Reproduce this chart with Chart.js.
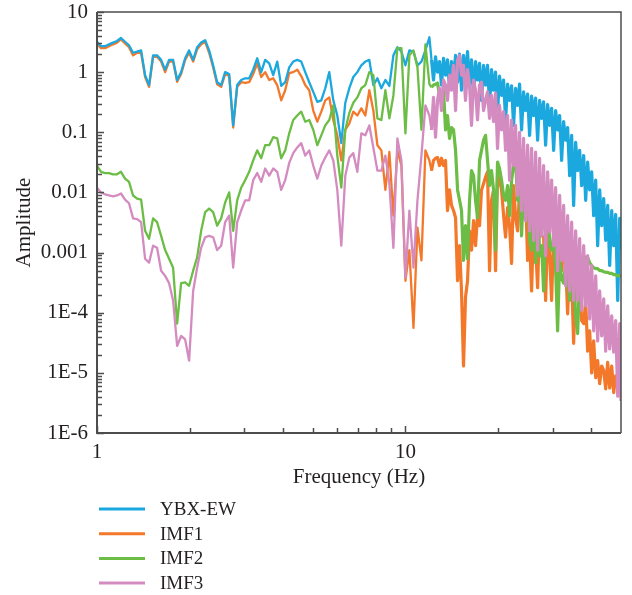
<!DOCTYPE html>
<html>
<head>
<meta charset="utf-8">
<script src="https://cdn.jsdelivr.net/npm/chart.js@4.4.1/dist/chart.umd.min.js"></script>
<style>
  html, body { margin: 0; padding: 0; background: #fff; }
  #wrap { width: 632px; height: 595px; }
</style>
</head>
<body>
<div id="wrap"><canvas id="chart" width="632" height="595"></canvas></div>
<script>
// Frequency (Hz) shared by all series
const freqs = [
  1.000, 1.030, 1.062, 1.094, 1.127, 1.161, 1.196, 1.233, 1.270, 1.309, 1.349, 1.390, 1.432, 1.475, 1.520, 1.566,
  1.614, 1.663, 1.713, 1.765, 1.819, 1.874, 1.931, 1.989, 2.050, 2.112, 2.176, 2.242, 2.310, 2.380, 2.452, 2.527,
  2.603, 2.683, 2.764, 2.848, 2.934, 3.023, 3.115, 3.209, 3.307, 3.407, 3.510, 3.617, 3.727, 3.840, 3.956, 4.076,
  4.200, 4.328, 4.459, 4.594, 4.733, 4.877, 5.025, 5.179, 5.336, 5.497, 5.664, 5.836, 6.013, 6.196, 6.384, 6.578,
  6.777, 6.983, 7.195, 7.413, 7.638, 7.870, 8.111, 8.356, 8.610, 8.871, 9.141, 9.418, 9.705, 10.00, 10.30, 10.62,
  10.94, 11.27, 11.61, 11.96,
  12.15, 12.33, 12.52, 12.71, 12.90, 13.09, 13.29, 13.49, 13.69, 13.90, 14.11, 14.32, 14.54, 14.76, 14.98, 15.20,
  15.43, 15.66, 15.90, 16.14, 16.38, 16.63, 16.88, 17.13, 17.39, 17.65, 17.92, 18.19, 18.46, 18.74, 19.02, 19.31,
  19.60, 19.89, 20.19, 20.50, 20.81, 21.12, 21.44, 21.76, 22.09, 22.42, 22.76, 23.10, 23.45, 23.80, 24.16, 24.53,
  24.90, 25.27, 25.65, 26.04, 26.43, 26.83, 27.23, 27.64, 28.06, 28.48, 28.91, 29.35, 29.79, 30.24, 30.69, 31.15,
  31.62, 32.10, 32.58, 33.07, 33.57, 34.08, 34.59, 35.11, 35.64, 36.18, 36.72, 37.28, 37.84, 38.41, 38.98, 39.57,
  40.17, 40.77, 41.39, 42.01, 42.64, 43.29, 43.94, 44.60, 45.27, 45.95, 46.65, 47.35, 48.06, 48.79, 49.52, 50.0
];

// Amplitude of each series at those frequencies
const ybxEW = [
  3.2, 2.7, 2.7, 2.9, 3.1, 3.3, 3.7, 3.2, 2.8, 2.1, 2.2, 2.3, 0.89, 0.61, 1.9, 1.9, 1.6, 1.1, 1.6, 1.6,
  0.74, 1.0, 1.7, 2.3, 1.6, 2.6, 3.1, 3.4, 2.3, 1.3, 0.68, 0.61, 1.0, 0.93, 0.13, 0.61, 0.74, 0.79, 0.79, 1.1,
  1.7, 1.0, 1.6, 1.4, 0.89, 1.5, 0.59, 0.68, 1.2, 1.5, 1.6, 1.5, 1.0, 0.68, 0.47, 0.32, 0.34, 0.54, 1.0, 0.34,
  0.19, 0.066, 0.31, 0.54, 0.83, 1.0, 1.3, 1.5, 1.6, 0.61, 0.79, 0.54, 0.74, 0.59, 1.9, 2.6, 2.2, 1.3, 2.3, 2.2,
  1.3, 1.5, 2.3, 3.8,
  1.6, 0.74, 1.8, 1.0, 1.5, 0.61, 1.7, 0.89, 1.6, 0.54,
  1.5, 0.79, 1.9, 0.68, 2.0, 0.50, 1.9, 0.86, 2.2, 0.61,
  1.6, 0.41, 1.5, 0.74, 1.4, 0.34, 1.3, 0.61, 1.3, 0.28,
  1.1, 0.50, 1.0, 0.22, 0.86, 0.41, 0.74, 0.16, 0.63, 0.34,
  0.59, 0.13, 0.54, 0.28, 0.63, 0.11, 0.47, 0.23, 0.43, 0.089,
  0.40, 0.19, 0.37, 0.074, 0.34, 0.17, 0.32, 0.061, 0.29, 0.13,
  0.25, 0.050, 0.23, 0.11, 0.19, 0.034, 0.15, 0.074, 0.12, 0.019,
  0.089, 0.0061, 0.068, 0.023, 0.050, 0.013, 0.041, 0.0074, 0.032, 0.011,
  0.022, 0.0041, 0.016, 0.0013, 0.011, 0.0028, 0.0079, 0.0016, 0.0061, 6.1e-4,
  0.0050, 0.0013, 0.0043, 1.6e-4, 0.0037, 0.0011
];

const imf1 = [
  3.0, 2.5, 2.5, 2.7, 2.9, 3.1, 3.5, 3.0, 2.6, 1.9, 2.1, 2.1, 0.83, 0.57, 1.8, 1.8, 1.5, 1.0, 1.5, 1.5,
  0.69, 0.93, 1.6, 2.1, 1.5, 2.4, 2.9, 3.2, 2.1, 1.2, 0.63, 0.57, 0.93, 0.86, 0.12, 0.57, 0.68, 0.66, 0.68, 0.93,
  1.4, 0.83, 1.0, 0.74, 0.79, 0.61, 0.34, 0.50, 0.96, 1.0, 1.1, 0.86, 0.61, 0.50, 0.23, 0.15, 0.22, 0.34, 0.38, 0.16,
  0.089, 0.034, 0.11, 0.14, 0.22, 0.19, 0.25, 0.19, 0.50, 0.23, 0.061, 0.050, 0.011, 0.047, 0.0041, 0.050, 0.028, 3.4e-4, 0.0011, 5.6e-5,
  0.0026, 7.4e-4, 0.050, 0.034,
  0.023, 0.034, 0.037, 0.038, 0.028, 0.037, 0.028, 0.034, 0.0050, 0.011,
  0.0061, 0.0050, 0.0038, 3.4e-4, 0.0013, 2.3e-4, 1.3e-5, 1.8e-4, 3.4e-4, 0.0023,
  0.0011, 0.0034, 0.0013, 0.0041, 0.0028, 0.011, 0.014, 0.018, 0.022, 5.0e-4,
  0.0074, 0.011, 5.0e-4, 0.019, 0.016, 0.011, 0.0041, 0.0018, 0.0056, 0.0028,
  6.6e-4, 0.013, 0.0038, 0.0023, 0.011, 0.0050, 0.0038, 0.0089, 7.4e-4, 0.0016,
  2.3e-4, 0.0031, 0.0013, 2.6e-4, 0.0038, 0.0019, 0.0018, 1.6e-4, 0.0023, 8.9e-4,
  1.6e-4, 0.0023, 6.8e-4, 2.3e-4, 0.0019, 5.0e-4, 0.0011, 6.8e-4, 9.6e-5, 8.9e-4,
  4.1e-4, 3.1e-5, 3.4e-4, 2.3e-4, 3.1e-4, 7.4e-5, 6.6e-5, 1.6e-4, 2.3e-5, 5.0e-5,
  1.0e-5, 3.4e-5, 8.3e-6, 1.6e-5, 6.6e-6, 1.3e-5, 1.1e-5, 5.4e-6, 1.5e-5, 5.6e-6,
  1.3e-5, 4.7e-6, 8.9e-6, 6.1e-6, 1.0e-5, 4.1e-6
];

const imf2 = [
  0.028, 0.022, 0.021, 0.021, 0.020, 0.020, 0.022, 0.017, 0.015, 0.0089, 0.0079, 0.0076, 0.0023, 0.0017,
  0.0037, 0.0032, 0.0019, 0.0011, 7.9e-4, 5.6e-4, 6.6e-5, 3.1e-4, 3.2e-4, 2.8e-4, 5.0e-4,
  8.3e-4, 0.0023, 0.0047, 0.0054, 0.0047, 0.0028, 0.0037, 0.0068, 0.010, 0.0023,
  0.0074, 0.012, 0.016, 0.022, 0.034, 0.050, 0.037, 0.061, 0.061, 0.083, 0.079, 0.037, 0.050, 0.096, 0.16,
  0.19, 0.22, 0.15, 0.16, 0.11, 0.061, 0.089, 0.13, 0.16, 0.28, 0.041, 0.012, 0.11, 0.21, 0.31,
  0.38, 0.54, 0.61, 1.0, 0.89, 0.17, 0.16, 0.50, 0.17, 0.41, 2.5, 2.5, 0.096, 1.9, 2.3, 1.2, 0.11, 2.9, 0.63,
  0.56, 0.61, 0.63, 0.66, 0.41, 0.34, 0.50, 0.11, 0.19, 0.079,
  0.12, 0.11, 0.050, 0.011, 0.0074, 0.0050, 7.4e-4, 0.0028, 7.9e-4, 0.0074,
  0.023, 0.019, 0.0074, 0.0038, 0.034, 0.050, 0.074, 0.089, 0.034, 0.013,
  0.023, 0.011, 0.0011, 0.032, 0.025, 0.016, 0.0089, 0.0074, 0.013, 0.0041,
  0.016, 0.028, 0.034, 0.0074, 0.011, 0.0019, 0.013, 0.0061, 0.019, 0.0016,
  0.0011, 0.0074, 6.8e-4, 0.0050, 8.9e-4, 0.0013, 2.3e-4, 0.0023, 0.017, 0.0013,
  0.0011, 0.0019, 5.4e-4, 5.0e-5, 7.4e-4, 3.7e-4, 3.1e-4, 6.8e-4, 4.5e-4, 1.6e-4,
  3.7e-4, 3.1e-4, 8.9e-5, 4.5e-5, 5.0e-4, 2.2e-4, 8.9e-4, 7.9e-4, 8.3e-4, 6.8e-4,
  6.1e-4, 5.6e-4, 5.4e-4, 5.4e-4, 5.0e-4, 5.0e-4, 4.8e-4, 4.7e-4, 4.7e-4, 4.5e-4,
  4.5e-4, 4.3e-4, 4.3e-4, 4.1e-4, 4.1e-4, 4.0e-4
];

const imf3 = [
  0.012, 0.010, 0.0093, 0.0089, 0.0086, 0.0089, 0.0096, 0.0076, 0.0066, 0.0037, 0.0036, 0.0032, 7.9e-4, 6.8e-4,
  0.0013, 0.0012, 5.0e-4, 4.1e-4, 3.1e-4, 1.6e-4, 2.8e-5, 4.1e-5, 3.6e-5, 1.6e-5, 2.3e-4,
  5.6e-4, 0.0012, 0.0018, 0.0019, 0.0018, 0.0011, 0.0013, 0.0032, 0.0041, 5.6e-4,
  0.0032, 0.0050, 0.0074, 0.0074, 0.016, 0.021, 0.015, 0.025, 0.019, 0.025, 0.022, 0.011, 0.016, 0.031, 0.045,
  0.056, 0.066, 0.041, 0.050, 0.028, 0.017, 0.028, 0.038, 0.050, 0.034, 0.011, 0.0013, 0.019, 0.038, 0.045,
  0.022, 0.096, 0.089, 0.13, 0.056, 0.023, 0.023, 0.041, 0.014, 0.0012, 0.079, 0.034, 3.8e-4, 0.0050, 5.6e-4,
  0.0074, 0.041, 0.28, 0.19,
  0.11, 0.38, 0.083, 0.34, 0.54, 0.23, 0.74, 0.61, 0.34, 0.89,
  0.50, 1.3, 0.23, 1.6, 1.9, 0.89, 1.3, 0.34, 1.1, 0.61,
  0.13, 0.74, 0.50, 0.16, 0.61, 0.68, 0.23, 0.34, 0.47, 0.17,
  0.41, 0.15, 0.45, 0.054, 0.28, 0.11, 0.22, 0.050, 0.19, 0.016,
  0.16, 0.028, 0.13, 0.0089, 0.10, 0.0050, 0.079, 0.0034, 0.061, 0.0023,
  0.054, 0.0016, 0.047, 0.0011, 0.037, 0.0019, 0.028, 8.9e-4, 0.022, 0.0022,
  0.016, 0.0013, 0.012, 5.0e-4, 0.0089, 7.4e-4, 0.0061, 2.8e-4, 0.0041, 2.3e-4,
  0.0032, 1.6e-4, 0.0023, 1.6e-4, 0.0017, 1.1e-4, 0.0013, 1.3e-4, 8.9e-4, 7.9e-5,
  6.1e-4, 5.0e-5, 4.1e-4, 3.4e-5, 2.3e-4, 4.1e-5, 1.7e-4, 2.3e-5, 1.3e-4, 2.5e-5,
  8.9e-5, 2.2e-5, 7.4e-5, 4.1e-6, 6.6e-5, 3.4e-6
];

const seriesNames = ["YBX-EW", "IMF1", "IMF2", "IMF3"];
const seriesData = [ybxEW, imf1, imf2, imf3];
const seriesColors = ["#1ba8df", "#f3782a", "#6bbd45", "#d48bc0"];
// lower number is drawn on top (IMF3 uppermost, IMF1 under YBX-EW)
const drawOrder = [2, 3, 1, 0];

const xTickValues = [1, 10];
const xTickLabels = ["1", "10"];
const yTickValues = [1e-6, 1e-5, 1e-4, 1e-3, 1e-2, 0.1, 1, 10];
const yTickLabels = ["1E-6", "1E-5", "1E-4", "0.001", "0.01", "0.1", "1", "10"];

const SERIF = "'Liberation Serif', 'Times New Roman', serif";
const AXIS_FONT = { family: SERIF, size: 21 };
const LEGEND_FONT = "19px " + SERIF;
const TEXT = "#231f20";
const AXIS = "#4d4d4d";

// frame, inward tick marks and the legend block under the axis
const framePlugin = {
  id: "frame",
  afterDraw(chart) {
    const { ctx, chartArea: a, scales: { x, y } } = chart;
    ctx.save();
    ctx.strokeStyle = AXIS;
    ctx.lineWidth = 1.5;
    ctx.beginPath();
    ctx.moveTo(a.left, a.top);
    ctx.lineTo(a.right, a.top);
    ctx.lineTo(a.right, a.bottom);
    ctx.stroke();
    ctx.lineWidth = 2;
    ctx.beginPath();
    ctx.moveTo(a.left, a.top);
    ctx.lineTo(a.left, a.bottom);
    ctx.lineTo(a.right, a.bottom);
    ctx.stroke();

    ctx.lineWidth = 1.5;
    ctx.beginPath();
    for (let e = -6; e <= 1; e++) {
      for (let m = 1; m <= 9; m++) {
        const v = m * Math.pow(10, e);
        if (v > 10) break;
        const py = Math.round(y.getPixelForValue(v)) + 0.5;
        ctx.moveTo(a.left, py);
        ctx.lineTo(a.left + (m === 1 ? 7 : 5), py);
      }
    }
    for (let e = 0; e <= 1; e++) {
      for (let m = 1; m <= 9; m++) {
        const v = m * Math.pow(10, e);
        if (v >= 50) break;
        const px = Math.round(x.getPixelForValue(v)) + 0.5;
        ctx.moveTo(px, a.bottom);
        ctx.lineTo(px, a.bottom - (m === 1 ? 7 : 5));
      }
    }
    ctx.stroke();

    // legend
    ctx.font = LEGEND_FONT;
    ctx.textBaseline = "middle";
    ctx.textAlign = "left";
    seriesNames.forEach((name, i) => {
      const ly = 509 + i * 24.7;
      ctx.strokeStyle = seriesColors[i];
      ctx.lineWidth = 3;
      ctx.beginPath();
      ctx.moveTo(99, ly);
      ctx.lineTo(145, ly);
      ctx.stroke();
      ctx.fillStyle = TEXT;
      ctx.fillText(name, 160, ly + 1);
    });
    ctx.restore();
  }
};

// above 12 Hz the spectra are dense bands, so the stroke is a bit wider there
const segmentWidth = ctx => (ctx.p0.parsed.x >= 12 ? 3.2 : 2.3);

const datasets = seriesNames.map((name, i) => ({
  label: name,
  data: freqs.map((f, k) => ({ x: f, y: seriesData[i][k] })),
  borderColor: seriesColors[i],
  borderWidth: 2.3,
  borderJoinStyle: "round",
  segment: { borderWidth: segmentWidth },
  pointRadius: 0,
  tension: 0,
  fill: false,
  order: drawOrder[i]
}));

new Chart(document.getElementById("chart").getContext("2d"), {
  type: "line",
  data: { datasets },
  options: {
    responsive: false,
    animation: false,
    events: [],
    layout: { padding: { left: 0, top: 12, right: 11, bottom: 102 } },
    plugins: { legend: { display: false }, tooltip: { enabled: false } },
    scales: {
      x: {
        type: "logarithmic",
        min: 1,
        max: 50,
        afterBuildTicks: s => { s.ticks = xTickValues.map(v => ({ value: v })); },
        afterFit: s => { s.height = 60; s.paddingLeft = 0; s.paddingRight = 0; },
        grid: { display: false, drawTicks: false },
        border: { display: false },
        ticks: {
          autoSkip: false,
          maxRotation: 0,
          padding: 7,
          color: TEXT,
          font: AXIS_FONT,
          callback: v => xTickLabels[xTickValues.indexOf(v)]
        },
        title: { display: true, text: "Frequency (Hz)", color: TEXT, font: AXIS_FONT, padding: { top: 0, bottom: 3 } }
      },
      y: {
        type: "logarithmic",
        min: 1e-6,
        max: 10,
        afterBuildTicks: s => { s.ticks = yTickValues.map(v => ({ value: v })); },
        afterFit: s => { s.width = 97; s.paddingTop = 0; s.paddingBottom = 0; },
        grid: { display: false, drawTicks: false },
        border: { display: false },
        ticks: {
          autoSkip: false,
          padding: 9,
          color: TEXT,
          font: AXIS_FONT,
          callback: v => yTickLabels[yTickValues.indexOf(v)]
        },
        title: { display: true, text: "Amplitude", color: TEXT, font: AXIS_FONT, padding: { top: 12, bottom: 0 } }
      }
    }
  },
  plugins: [framePlugin]
});
</script>
</body>
</html>
